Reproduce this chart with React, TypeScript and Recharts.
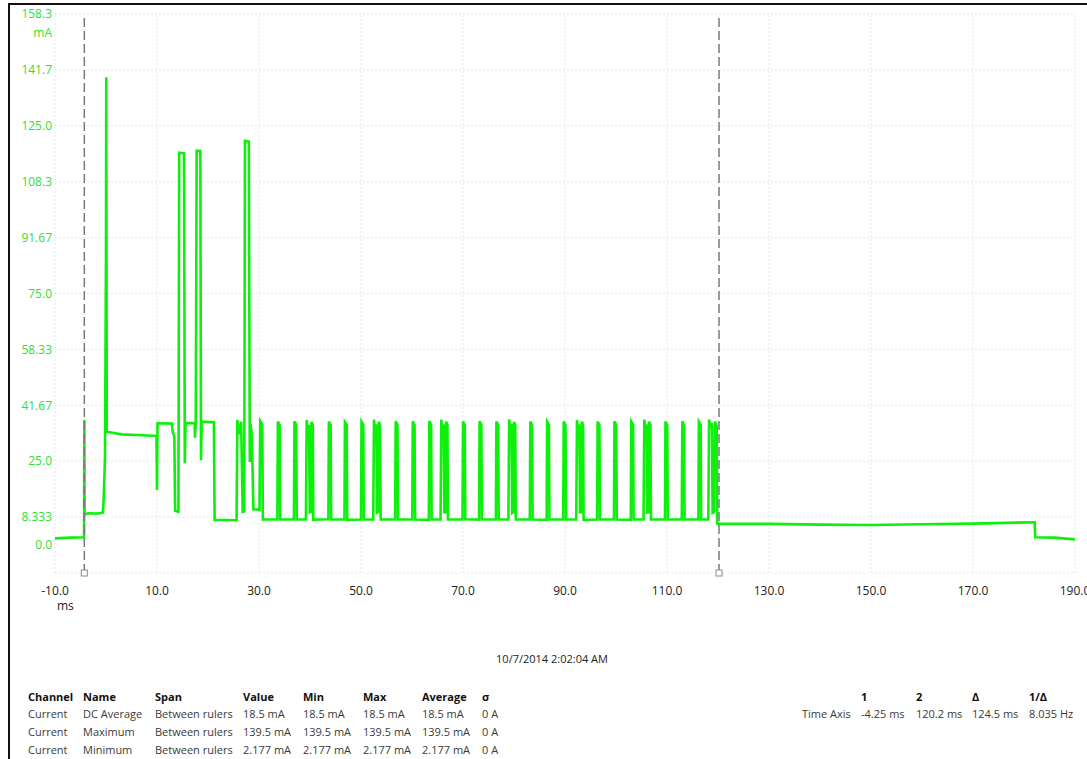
import { LineChart, Line, XAxis, YAxis, ReferenceLine, ReferenceDot } from 'recharts';

// axis range (mA / ms)
const Y_MIN = -8.333;
const Y_MAX = 158.333;

const xTicks = [-10, 10, 30, 50, 70, 90, 110, 130, 150, 170, 190];
const yTicks = [0, 8.333, 25, 41.667, 58.333, 75, 91.667, 108.333, 125, 141.667, 158.333];
const yTickLabels = ['0.0', '8.333', '25.0', '41.67', '58.33', '75.0', '91.67', '108.3', '125.0', '141.7', '158.3'];
const yGrid = [-8.333, 8.333, 25, 41.667, 58.333, 75, 91.667, 108.333, 125, 141.667, 158.333];
const rulers = [-4.25, 120.2];

// current trace [ms, mA]
const wakeTrace: [number, number][] = [
  [-10, 2.0], [-7, 2.2], [-4.3, 2.3], [-4.25, 37.3], [-4.2, 9.0], [-3.5, 9.5], [-1.5, 9.4],
  [-0.6, 9.7], [-0.45, 14.0], [-0.2, 26.0], [0.0, 87.0], [0.05, 139.5], [0.15, 33.8],
  [3, 33.0], [6, 32.8], [9.9, 32.5], [10.0, 16.4], [10.1, 36.3], [12.9, 36.2], [13.1, 33.5],
  [13.4, 32.5], [13.55, 10.2], [14.2, 9.9], [14.35, 117.0], [15.3, 116.8], [15.45, 24.4],
  [15.6, 36.4], [17.4, 36.3], [17.45, 32.0], [17.6, 36.0], [17.78, 117.6], [18.5, 117.5],
  [18.63, 25.3], [18.76, 36.8], [21.15, 36.6], [21.3, 7.5], [25.6, 7.4], [25.75, 37.3],
  [26.1, 33.0], [26.5, 36.8], [26.8, 9.9], [27.1, 10.0], [27.25, 120.5], [28.0, 120.3],
  [28.2, 24.8], [28.35, 36.0], [28.6, 33.0], [28.9, 10.7], [30.1, 10.5], [30.25, 37.0],
  [30.65, 36.0], [30.75, 7.6],
];

const pulseTrace: [number, number][] = [
  [33.6, 7.6], [33.7, 36.8], [34.05, 35.8], [34.15, 7.6],
  [36.85, 7.6], [36.95, 36.9], [37.3, 35.9], [37.4, 7.6],
  [39.2, 7.6], [39.35, 37.3], [39.6, 33.6], [39.8, 35.9], [39.95, 9.8], [40.15, 9.9], [40.3, 36.7], [40.55, 35.8], [40.65, 7.6],
  [43.6, 7.7], [43.7, 36.8], [44.05, 35.8], [44.15, 7.6],
  [46.75, 7.6], [46.85, 36.7], [47.2, 35.9], [47.3, 7.5],
  [50.0, 7.6], [50.1, 36.8], [50.45, 35.9], [50.55, 7.6],
  [52.4, 7.6], [52.55, 37.4], [52.8, 33.5], [53.0, 36.0], [53.15, 9.7], [53.35, 9.9], [53.5, 36.8], [53.75, 35.7], [53.85, 7.6],
  [56.7, 7.6], [56.8, 36.9], [57.15, 35.8], [57.25, 7.6],
  [60.05, 7.6], [60.15, 36.9], [60.5, 35.8], [60.6, 7.6],
  [63.3, 7.5], [63.4, 37.0], [63.75, 35.8], [63.85, 7.6],
  [65.6, 7.6], [65.75, 37.4], [66.0, 33.6], [66.2, 36.0], [66.35, 9.8], [66.55, 9.8], [66.7, 36.8], [66.95, 35.8], [67.05, 7.6],
  [69.9, 7.6], [70.0, 36.8], [70.35, 35.8], [70.45, 7.7],
  [73.15, 7.6], [73.25, 36.9], [73.6, 35.9], [73.7, 7.6],
  [76.45, 7.6], [76.55, 36.8], [76.9, 35.8], [77.0, 7.6],
  [78.9, 7.6], [79.05, 37.5], [79.3, 33.8], [79.5, 36.1], [79.65, 9.6], [79.85, 9.8], [80.0, 36.7], [80.25, 35.8], [80.35, 7.6],
  [83.1, 7.6], [83.2, 36.8], [83.55, 35.8], [83.65, 7.6],
  [86.4, 7.5], [86.5, 36.8], [86.85, 35.9], [86.95, 7.6],
  [89.65, 7.6], [89.75, 36.8], [90.1, 35.8], [90.2, 7.6],
  [92.2, 7.6], [92.35, 37.3], [92.6, 33.7], [92.8, 36.0], [92.95, 9.8], [93.15, 9.8], [93.3, 36.8], [93.55, 35.7], [93.65, 7.5],
  [96.3, 7.6], [96.4, 36.8], [96.75, 35.8], [96.85, 7.6],
  [99.6, 7.6], [99.7, 36.9], [100.05, 35.8], [100.15, 7.6],
  [102.9, 7.5], [103.0, 36.8], [103.35, 35.9], [103.45, 7.6],
  [105.4, 7.6], [105.55, 37.4], [105.8, 33.6], [106.0, 36.0], [106.15, 9.7], [106.35, 9.8], [106.5, 36.8], [106.75, 35.8], [106.85, 7.6],
  [109.6, 7.6], [109.7, 36.8], [110.05, 35.8], [110.15, 7.6],
  [112.9, 7.6], [113.0, 36.9], [113.35, 35.8], [113.45, 7.6],
  [116.15, 7.6], [116.25, 36.8], [116.6, 35.9], [116.7, 7.6],
  [118.1, 7.6], [118.25, 37.4], [118.55, 35.0], [118.8, 36.4], [118.95, 9.6], [119.2, 9.8], [119.4, 36.8], [119.75, 35.5], [119.85, 6.4],
];

const idleTrace: [number, number][] = [
  [120.0, 6.3], [130, 6.3], [140, 6.1], [150, 6.0], [160, 6.2], [170, 6.4], [182.1, 6.8],
  [182.2, 2.3], [186, 2.2], [190, 1.7],
];

const statColumns = ['Channel', 'Name', 'Span', 'Value', 'Min', 'Max', 'Average', 'σ'];
const statRows = [
  ['Current', 'DC Average', 'Between rulers', '18.5 mA', '18.5 mA', '18.5 mA', '18.5 mA', '0 A'],
  ['Current', 'Maximum', 'Between rulers', '139.5 mA', '139.5 mA', '139.5 mA', '139.5 mA', '0 A'],
  ['Current', 'Minimum', 'Between rulers', '2.177 mA', '2.177 mA', '2.177 mA', '2.177 mA', '0 A'],
];
const rulerColumns = ['', '1', '2', 'Δ', '1/Δ'];
const rulerRow = ['Time Axis', '-4.25 ms', '120.2 ms', '124.5 ms', '8.035 Hz'];
const captureTime = '10/7/2014 2:02:04 AM';

const FONT = '"Open Sans", "Noto Sans", sans-serif';
const GREEN = '#2fe02f';
const TRACE = '#0cf00c';
const GRID = '#d9ebf1';

const statX = [28, 83, 155, 243, 303, 363, 422, 482];
const rulerX = [802, 861, 916, 972, 1029];

export default function App() {
  const data = [...wakeTrace, ...pulseTrace, ...idleTrace].map(([t, v]) => ({ t, v }));

  const yLabel = (v: number) => {
    const i = yTicks.findIndex(y => Math.abs(y - v) < 0.01);
    return i >= 0 ? yTickLabels[i] : '';
  };

  const text = (s: string, left: number, top: number, extra: any = {}) => (
    <div
      key={`${s}-${left}-${top}`}
      style={{
        position: 'absolute',
        left,
        top,
        fontSize: 11,
        lineHeight: '16px',
        whiteSpace: 'nowrap',
        color: '#3a3a3a',
        ...extra,
      }}
    >
      {s}
    </div>
  );

  return (
    <div
      style={{
        position: 'absolute',
        left: 0,
        top: 0,
        width: 1087,
        height: 759,
        background: '#fff',
        overflow: 'hidden',
        fontFamily: FONT,
      }}
    >
      {/* window frame */}
      <div
        style={{
          position: 'absolute',
          left: 8,
          top: 3,
          width: 1087,
          height: 800,
          borderLeft: '2px solid #111',
          borderTop: '2px solid #111',
        }}
      />

      <div style={{ position: 'absolute', left: 0, top: 0 }}>
        <LineChart
          width={1087}
          height={620}
          data={data}
          margin={{ top: 14, right: 12, bottom: 17, left: 10 }}
        >
          <XAxis
            dataKey="t"
            type="number"
            domain={[-10, 190]}
            ticks={xTicks}
            interval={0}
            allowDataOverflow
            tickFormatter={(v: number) => v.toFixed(1)}
            tick={{ fill: '#222', fontSize: 12, fontFamily: FONT }}
            tickLine={false}
            axisLine={false}
            tickSize={0}
            tickMargin={13}
            height={30}
          />
          <YAxis
            type="number"
            domain={[Y_MIN, Y_MAX]}
            ticks={yTicks}
            interval={0}
            allowDataOverflow
            tickFormatter={yLabel}
            tick={{ fill: GREEN, fontSize: 12, fontFamily: FONT }}
            tickLine={false}
            axisLine={false}
            tickSize={0}
            tickMargin={3}
            width={45}
          />
          {yGrid.map(y => (
            <ReferenceLine key={`gy${y}`} y={y} stroke={GRID} strokeDasharray="2 2" />
          ))}
          {xTicks.map(x => (
            <ReferenceLine key={`gx${x}`} x={x} stroke={GRID} strokeDasharray="2 2" />
          ))}
          <Line
            type="linear"
            dataKey="v"
            stroke={TRACE}
            strokeWidth={2.6}
            dot={false}
            isAnimationActive={false}
          />
          {rulers.map(r => (
            <ReferenceLine key={`r${r}`} x={r} stroke="#7a7a7a" strokeWidth={1.5} strokeDasharray="9 4" />
          ))}
          {rulers.map(r => (
            <ReferenceDot
              key={`rd${r}`}
              x={r}
              y={Y_MIN}
              shape={(p: any) => (
                <rect x={p.cx - 3} y={p.cy - 3} width={6} height={6} fill="#fff" stroke="#8a8a8a" />
              )}
            />
          ))}
        </LineChart>
      </div>

      {text('mA', 0, 25, { width: 52, textAlign: 'right', color: GREEN, fontSize: 12 })}
      {text('ms', 57, 598, { color: '#222', fontSize: 12 })}
      {text(captureTime, 452, 651, { width: 200, textAlign: 'center', color: '#222' })}

      {statColumns.map((c, i) => text(c, statX[i], 689, { fontWeight: 700, color: '#111' }))}
      {statRows.map((row, r) =>
        row.map((c, i) => text(c, statX[i], 706 + r * 18, {}))
      )}

      {rulerColumns.map((c, i) => (c ? text(c, rulerX[i], 689, { fontWeight: 700, color: '#111' }) : null))}
      {rulerRow.map((c, i) => text(c, rulerX[i], 706, {}))}
    </div>
  );
}
